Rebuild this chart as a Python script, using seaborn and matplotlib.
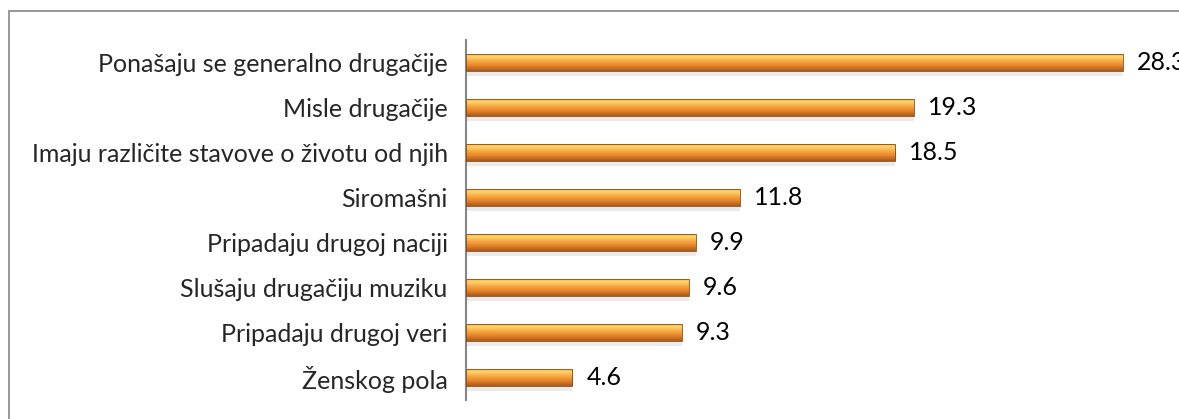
import numpy as np
import pandas as pd
import seaborn as sns
import matplotlib.pyplot as plt
from matplotlib.colors import LinearSegmentedColormap
from matplotlib.patches import Rectangle

categories = [
    "Ponašaju se generalno drugačije",
    "Misle drugačije",
    "Imaju različite stavove o životu od njih",
    "Siromašni",
    "Pripadaju drugoj naciji",
    "Slušaju drugačiju muziku",
    "Pripadaju drugoj veri",
    "Ženskog pola",
]
values = [28.3, 19.3, 18.5, 11.8, 9.9, 9.6, 9.3, 4.6]

df = pd.DataFrame({"category": categories, "value": values})

sns.set_style("white")
plt.rcParams['font.family'] = ['Lato', 'DejaVu Sans']

fig = plt.figure(figsize=(11.79, 4.19), dpi=100)
ax = fig.add_axes([0.395, 0.0453, 0.605, 0.8592])

sns.barplot(data=df, x="value", y="category", color="#E8872B", width=0.38,
            ax=ax, saturation=1, edgecolor="#8a4a12", linewidth=0.6)

# glossy orange gradient on each bar
cmap = LinearSegmentedColormap.from_list("gloss", [
    (0.0, "#F6A847"), (0.2, "#FFD66A"), (0.4, "#F9B04A"),
    (0.7, "#E8842A"), (1.0, "#A85A1A")])
grad = np.linspace(0, 1, 64).reshape(-1, 1)
for p in ax.patches:
    x0, y0 = p.get_x(), p.get_y()
    w, h = p.get_width(), p.get_height()
    # soft shadow under the bar
    ax.add_patch(Rectangle((x0, y0 + h), w, h * 0.3, color="#d9d9d9",
                           alpha=0.5, lw=0, zorder=1))
    im = ax.imshow(grad, cmap=cmap, aspect="auto", zorder=3,
                   extent=(x0, x0 + w, y0 + h, y0), interpolation="bicubic")
    im.set_clip_path(p)
    p.set_zorder(4)
    p.set_facecolor("none")

for i, v in enumerate(values):
    ax.text(v + 0.6, i, f"{v}", va="center", ha="left", fontsize=18,
            color="black", clip_on=False)

ax.set_xlim(0, 30.73)
ax.set_ylim(7.5, -0.5)
ax.set_xlabel("")
ax.set_ylabel("")
ax.set_xticks([])
ax.tick_params(axis="y", length=0, labelsize=18, pad=13)
for s in ["top", "right", "bottom"]:
    ax.spines[s].set_visible(False)
ax.spines["left"].set_color("#868686")
ax.spines["left"].set_linewidth(1.5)

# outer chart border
fig.patches.append(Rectangle((9 / 1179, -0.1), 1.2, 1 - 11 / 419 + 0.1,
                             transform=fig.transFigure, fill=False,
                             edgecolor="#868686", lw=1.2))

fig.savefig("out.png", dpi=100)
